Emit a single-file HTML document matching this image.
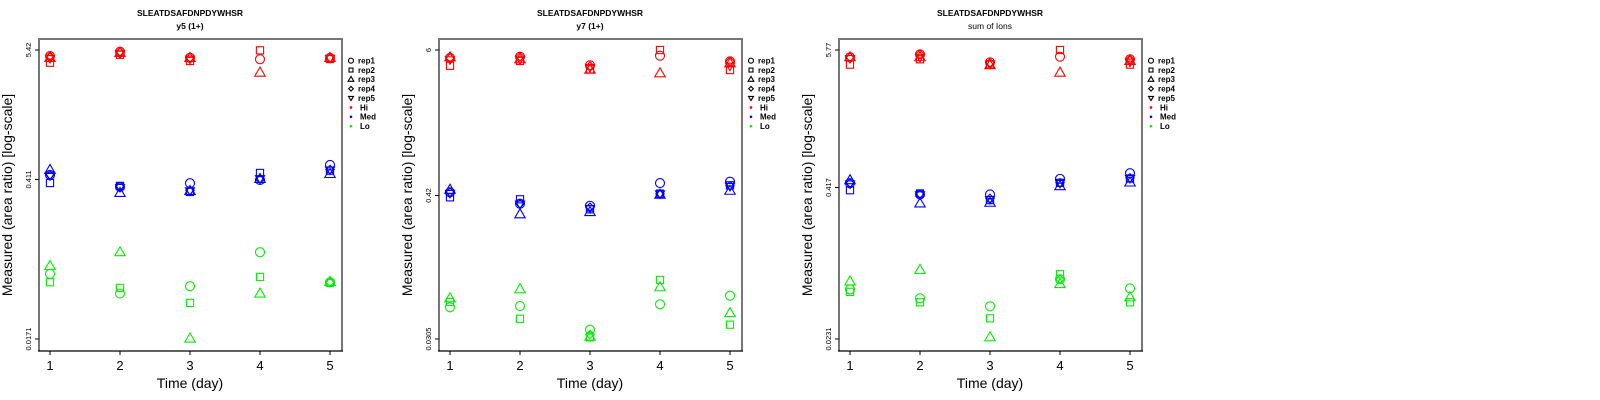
<!DOCTYPE html>
<html><head><meta charset="utf-8"><style>
html,body{margin:0;padding:0;background:#fff;}
svg{display:block;font-family:"Liberation Sans",sans-serif;}
</style></head><body>
<svg id="chart" width="1600" height="400" viewBox="0 0 1600 400" xmlns="http://www.w3.org/2000/svg"></svg>
<script>
// Data: log10(area ratio); index = day 1..5 ; null = not measured
const days = [1, 2, 3, 4, 5];
const repLabels = ["rep1", "rep2", "rep3", "rep4", "rep5"];
const groupLabels = ["Hi", "Med", "Lo"];
const panelTitles = ["y5 (1+)", "y7 (1+)", "sum of Ions"];
const peptide = "SLEATDSAFDNPDYWHSR";
const yTickLabels1 = ["5.42", "0.411", "0.0171"];
const yTickLabels2 = ["6", "0.42", "0.0305"];
const yTickLabels3 = ["5.77", "0.417", "0.0231"];

// panel 1
const p1HiRep1 = [0.682, 0.719, 0.667, 0.654, 0.665];
const p1HiRep2 = [0.624, 0.693, 0.639, 0.731, 0.656];
const p1HiRep3 = [0.665, 0.708, 0.665, 0.538, 0.665];
const p1HiRep4 = [0.682, 0.719, 0.667, null, 0.665];
const p1HiRep5 = [0.660, 0.700, 0.655, null, 0.662];
const p1MedRep1 = [-0.347, -0.451, -0.419, -0.391, -0.261];
const p1MedRep2 = [-0.417, -0.442, -0.494, -0.330, -0.310];
const p1MedRep3 = [-0.304, -0.503, -0.486, -0.382, -0.339];
const p1MedRep4 = [-0.347, -0.448, -0.480, -0.385, -0.300];
const p1MedRep5 = [-0.355, -0.455, -0.485, -0.380, -0.305];
const p1LoRep1 = [-1.204, -1.374, -1.310, -1.016, -1.276];
const p1LoRep2 = [-1.276, -1.325, -1.455, -1.230, -1.282];
const p1LoRep3 = [-1.135, -1.016, -1.763, -1.374, -1.273];
const p1LoRep4 = [null, null, null, null, -1.276];
const p1LoRep5 = [null, null, null, null, null];
// panel 2
const p2HiRep1 = [0.715, 0.725, 0.657, 0.733, 0.688];
const p2HiRep2 = [0.653, 0.691, 0.625, 0.778, 0.619];
const p2HiRep3 = [0.720, 0.704, 0.622, 0.593, 0.672];
const p2HiRep4 = [0.715, 0.725, 0.650, null, 0.688];
const p2HiRep5 = [0.700, 0.700, 0.640, null, 0.650];
const p2MedRep1 = [-0.351, -0.442, -0.458, -0.278, -0.267];
const p2MedRep2 = [-0.391, -0.407, -0.486, -0.362, -0.296];
const p2MedRep3 = [-0.331, -0.526, -0.508, -0.370, -0.339];
const p2MedRep4 = [-0.351, -0.442, -0.470, -0.365, -0.300];
const p2MedRep5 = [-0.360, -0.445, -0.480, -0.365, -0.305];
const p2LoRep1 = [-1.264, -1.254, -1.442, -1.240, -1.172];
const p2LoRep2 = [-1.222, -1.355, -1.502, -1.047, -1.402];
const p2LoRep3 = [-1.193, -1.121, -1.497, -1.105, -1.310];
const p2LoRep4 = [null, null, -1.480, null, null];
const p2LoRep5 = [null, null, null, null, null];
// panel 3
const p3HiRep1 = [0.701, 0.725, 0.659, 0.706, 0.684];
const p3HiRep2 = [0.640, 0.684, 0.643, 0.761, 0.640];
const p3HiRep3 = [0.701, 0.701, 0.635, 0.573, 0.670];
const p3HiRep4 = [0.701, 0.725, 0.655, null, 0.684];
const p3HiRep5 = [0.690, 0.700, 0.645, null, 0.660];
const p3MedRep1 = [-0.344, -0.437, -0.437, -0.308, -0.261];
const p3MedRep2 = [-0.402, -0.429, -0.484, -0.341, -0.305];
const p3MedRep3 = [-0.319, -0.512, -0.506, -0.369, -0.338];
const p3MedRep4 = [-0.344, -0.437, -0.470, -0.340, -0.300];
const p3MedRep5 = [-0.350, -0.440, -0.480, -0.345, -0.305];
const p3LoRep1 = [-1.225, -1.299, -1.365, -1.140, -1.217];
const p3LoRep2 = [-1.245, -1.332, -1.465, -1.099, -1.332];
const p3LoRep3 = [-1.159, -1.063, -1.622, -1.181, -1.291];
const p3LoRep4 = [null, null, null, -1.140, null];
const p3LoRep5 = [null, null, null, null, null];

const NS = "http://www.w3.org/2000/svg";
const svg = document.getElementById("chart");
const colors = ["#ff0000", "#0000ff", "#00ee00"];
function mk(tag, attrs, parent) {
  const e = document.createElementNS(NS, tag);
  for (const k in attrs) e.setAttribute(k, attrs[k]);
  (parent || svg).appendChild(e);
  return e;
}
function marker(g, shape, cx, cy, color) {
  let e;
  if (shape === 0) e = mk("circle", {cx: cx, cy: cy, r: 4.5}, g);
  else if (shape === 1) e = mk("rect", {x: cx - 3.6, y: cy - 3.6, width: 7.2, height: 7.2}, g);
  else if (shape === 2) e = mk("polygon", {points: `${cx},${cy - 5.5} ${cx + 5.2},${cy + 3.5} ${cx - 5.2},${cy + 3.5}`}, g);
  else if (shape === 3) e = mk("polygon", {points: `${cx},${cy - 4.2} ${cx + 4.2},${cy} ${cx},${cy + 4.2} ${cx - 4.2},${cy}`}, g);
  else e = mk("polygon", {points: `${cx},${cy + 4.5} ${cx + 4.5},${cy - 3} ${cx - 4.5},${cy - 3}`}, g);
  e.setAttribute("fill", "none");
  e.setAttribute("stroke", color);
  e.setAttribute("stroke-width", "1.1");
  
  
  return e;
}
function drawPanel(ox, titleBold, tickLabels, series) {
  const L = ox + 39, R = ox + 342, T = 39, B = 351;
  const tickVals = tickLabels.map(t => Math.log10(parseFloat(t)));
  const yTop = 50, yBot = 339;
  const yScale = v => yTop + (tickVals[0] - v) / (tickVals[0] - tickVals[2]) * (yBot - yTop);
  const xScale = d => ox + 50 + (d - 1) * 70;
  const g = mk("g", {});
  
  
  const t1 = mk("text", {x: ox + 190, y: 16, "text-anchor": "middle", "font-size": "8.5", "font-weight": "bold"}, g);
  t1.textContent = peptide;
  
  
  const t2 = mk("text", {x: ox + 190, y: 29, "text-anchor": "middle", "font-size": "8.5", "font-weight": titleBold[1]}, g);
  t2.textContent = titleBold[0];
  
  
  const box = mk("path", {d: `M${L},${B} L${L},${T} L${R},${T} L${R},${B}`, fill: "none", stroke: "#777", "stroke-width": "2"}, g);
  
  
  mk("line", {x1: L - 1, y1: B, x2: R + 1, y2: B, stroke: "#000", "stroke-width": "1.2"}, g);
  tickVals.forEach((v, i) => {
    const y = yScale(v);
    mk("line", {x1: L - 4, y1: y, x2: L, y2: y, stroke: "#000", "stroke-width": "1"}, g);
    const tl = mk("text", {x: 0, y: 0, transform: `translate(${ox + 31},${y}) rotate(-90)`, "text-anchor": "middle", "font-size": "7.5"}, g);
    tl.textContent = tickLabels[i];
    
    
  });
  days.forEach(d => {
    const x = xScale(d);
    mk("line", {x1: x, y1: B, x2: x, y2: B + 4, stroke: "#000", "stroke-width": "1"}, g);
    const tl = mk("text", {x: x, y: 370, "text-anchor": "middle", "font-size": "13"}, g);
    tl.textContent = String(d);
    
    
  });
  const xt = mk("text", {x: ox + 190, y: 388, "text-anchor": "middle", "font-size": "14"}, g);
  xt.textContent = "Time (day)";
  
  
  const yt = mk("text", {x: 0, y: 0, transform: `translate(${ox + 12},195) rotate(-90)`, "text-anchor": "middle", "font-size": "14"}, g);
  yt.textContent = "Measured (area ratio) [log-scale]";
  
  
  series.forEach((grp, gi) => {
    grp.forEach((arr, ri) => {
      arr.forEach((v, di) => { if (v !== null) marker(g, ri, xScale(days[di]), yScale(v), colors[gi]); });
    });
  });
  const lg = mk("g", {}, g);
  
  
  const lx = R + 9;
  const labels = repLabels.concat(groupLabels);
  labels.forEach((lab, i) => {
    const y = 60.7 + i * 9.35;
    if (i < 5) {
      const m = mk("g", {transform: `translate(${lx},${y}) scale(0.55) translate(${-lx},${-y})`}, lg);
      marker(m, i, lx, y, "#000").setAttribute("stroke-width", "2");
    } else {
      const c = mk("circle", {cx: lx, cy: y, r: 1.3, fill: colors[i - 5]}, lg);
      
      
    }
    const tx = mk("text", {x: lx + (i < 5 ? 7 : 9), y: y + 2.8, "font-size": "8", "font-weight": "bold"}, lg);
    tx.textContent = lab;
    
    
  });
}
drawPanel(0, [panelTitles[0], "bold"], yTickLabels1, [
  [p1HiRep1, p1HiRep2, p1HiRep3, p1HiRep4, p1HiRep5],
  [p1MedRep1, p1MedRep2, p1MedRep3, p1MedRep4, p1MedRep5],
  [p1LoRep1, p1LoRep2, p1LoRep3, p1LoRep4, p1LoRep5]]);
drawPanel(400, [panelTitles[1], "bold"], yTickLabels2, [
  [p2HiRep1, p2HiRep2, p2HiRep3, p2HiRep4, p2HiRep5],
  [p2MedRep1, p2MedRep2, p2MedRep3, p2MedRep4, p2MedRep5],
  [p2LoRep1, p2LoRep2, p2LoRep3, p2LoRep4, p2LoRep5]]);
drawPanel(800, [panelTitles[2], "normal"], yTickLabels3, [
  [p3HiRep1, p3HiRep2, p3HiRep3, p3HiRep4, p3HiRep5],
  [p3MedRep1, p3MedRep2, p3MedRep3, p3MedRep4, p3MedRep5],
  [p3LoRep1, p3LoRep2, p3LoRep3, p3LoRep4, p3LoRep5]]);
</script>
</body></html>
